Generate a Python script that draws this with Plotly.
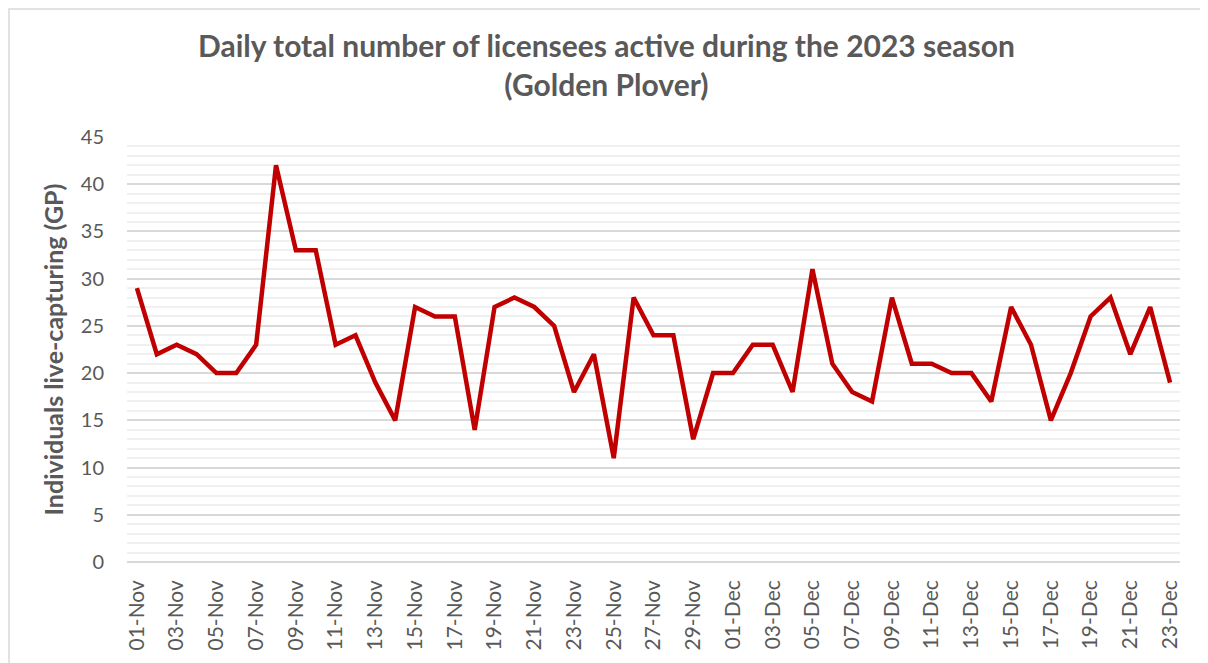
import plotly.graph_objects as go

nov_days = [f"{d:02d}-Nov" for d in range(1, 31)]
dec_days = [f"{d:02d}-Dec" for d in range(1, 24)]
dates = nov_days + dec_days

nov_values = [29, 22, 23, 22, 20, 20, 23, 42, 33, 33,
              23, 24, 19, 15, 27, 26, 26, 14, 27, 28,
              27, 25, 18, 22, 11, 28, 24, 24, 13, 20]
dec_values = [20, 23, 23, 18, 31, 21, 18, 17, 28, 21,
              21, 20, 20, 17, 27, 23, 15, 20, 26, 28,
              22, 27, 19]
values = nov_values + dec_values

tick_labels = dates[::2]

title_text = "Daily total number of licensees active during the 2023 season<br>(Golden Plover)"
y_title = "Individuals live-capturing (GP)"

# page has an 8px body margin; compensate so the plot lands where the reference has it
W, H = 1200, 655
L, R, T, B = 119, 28, 129, 101
pw, ph = W - L - R, H - T - B

FONT = "Lato, Carlito, Calibri, sans-serif"
GREY = "#595959"

fig = go.Figure()
fig.add_trace(go.Scatter(
    x=dates, y=values, mode="lines",
    line=dict(color="#c00000", width=4.5, shape="linear"),
    hoverinfo="x+y", showlegend=False,
))

# chart border
fig.add_shape(type="rect", xref="paper", yref="paper",
              x0=(1 - L) / pw, x1=(1194 - L) / pw,
              y0=(H - B - 700) / ph, y1=(H - B - 1) / ph,
              line=dict(color="#d9d9d9", width=1.5), fillcolor="rgba(0,0,0,0)",
              layer="below")

# chart title (as an annotation for exact placement)
fig.add_annotation(
    text=title_text, xref="paper", yref="paper",
    x=(598 - L) / pw, y=1 + (T - 17) / ph, xanchor="center", yanchor="top",
    showarrow=False, align="center",
    font=dict(family=FONT, size=30, color=GREY, weight="bold"),
)

fig.update_layout(
    width=W, height=H,
    margin=dict(l=L, r=R, t=T, b=B),
    paper_bgcolor="white", plot_bgcolor="white",
    font=dict(family=FONT, color=GREY),
    xaxis=dict(
        type="category", range=[-0.5, len(dates) - 0.5],
        tickmode="array", tickvals=tick_labels, ticktext=tick_labels,
        tickangle=-90, tickfont=dict(size=21, color=GREY),
        showgrid=False, showline=False, zeroline=False, ticks="",
        ticklabelstandoff=13,
    ),
    yaxis=dict(
        range=[0, 45], tickmode="linear", tick0=0, dtick=5,
        tickfont=dict(size=20, color=GREY),
        showgrid=True, gridcolor="#d9d9d9", gridwidth=1.5,
        zeroline=True, zerolinecolor="#d9d9d9", zerolinewidth=1.5,
        showline=False, ticks="",
        minor=dict(dtick=1, showgrid=True, gridcolor="#f0f0f0", gridwidth=1.5),
        title=dict(text=y_title, standoff=10,
                   font=dict(family=FONT, size=25, color=GREY, weight="bold")),
        ticklabelstandoff=22,
    ),
)

fig.write_html("out.html")
